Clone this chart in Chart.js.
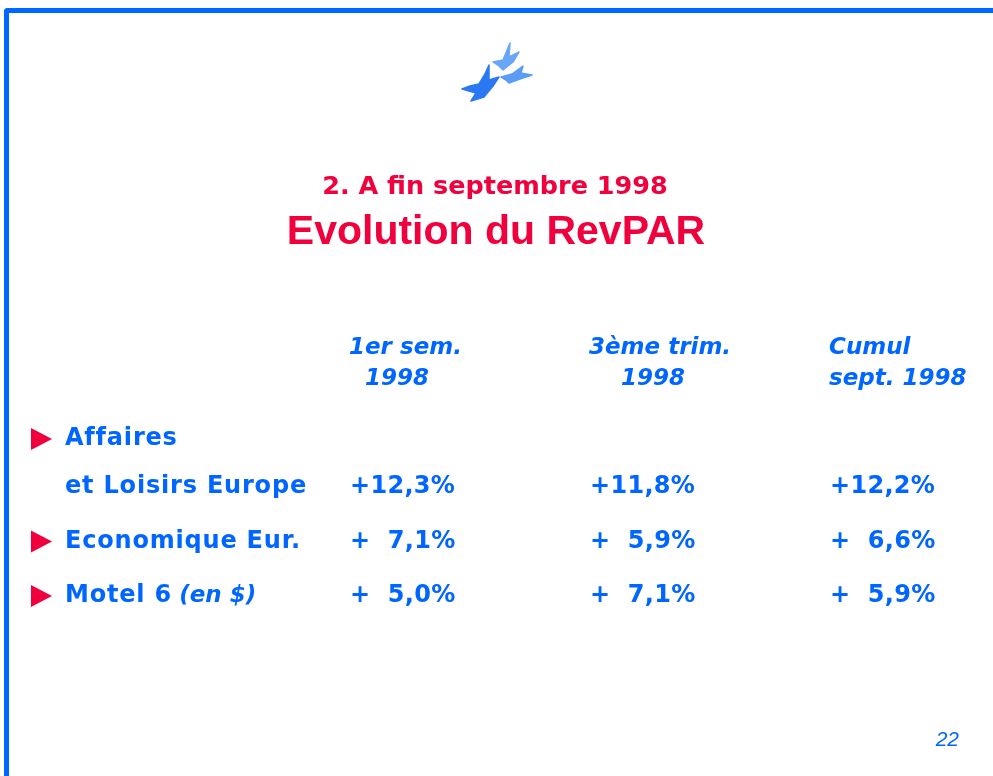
<!DOCTYPE html>
<html>
<head>
<meta charset="utf-8">
<script src="https://cdn.jsdelivr.net/npm/chart.js@4.4.1/dist/chart.umd.min.js"></script>
<style>
  body { margin: 0; background: #fff; }
  #frame {
    position: absolute; left: 4px; top: 8px; width: 995px; height: 780px;
    border-top: 5px solid #0066ff; border-left: 5px solid #0066ff;
    border-top-left-radius: 4px;
  }
  canvas { position: absolute; left: 0; top: 0; }
</style>
</head>
<body>
<div id="frame"></div>
<canvas id="chart" width="993" height="776"></canvas>
<script>
const slideKicker = '2. A fin septembre 1998';
const slideTitle = 'Evolution du RevPAR';
const pageNumber = '22';

const rowNames = [['Affaires', 'et Loisirs Europe'], ['Economique Eur.'], ['Motel 6']];
const rowNotes = ['', '', '(en $)'];
const columnHeaders = [['1er sem.', '  1998'], ['3ème trim.', '    1998'], ['Cumul', 'sept. 1998']];

const sem1 = [12.3, 7.1, 5.0];
const trim3 = [11.8, 5.9, 7.1];
const cumul = [12.2, 6.6, 5.9];

const BLUE = '#0066ff';
const RED = '#f0003c';

// little flock of birds above the title
const birds = [
  { color: '#6aa6f7', pts: [[493, 62], [503, 60], [510, 43], [509, 57], [519, 52], [513, 62], [503, 70], [499, 66]] },
  { color: '#5a9cf6', pts: [[501, 77], [512, 74], [523, 66], [521, 73], [532, 75], [520, 79], [509, 83], [506, 80]] },
  { color: '#2a78f3', pts: [[462, 89], [470, 86], [479, 84], [485, 74], [489, 65], [489, 80], [499, 77], [493, 86], [484, 97], [471, 101], [476, 93], [469, 91]] }
];

function formatPct(v) {
  const s = v.toFixed(1).replace('.', ',') + '%';
  return v >= 10 ? '+' + s : '+  ' + s;
}

function columnData(values, col) {
  return values.map(function(v, row) {
    return { x: col, y: row, v: v };
  });
}

function drawBlob(ctx, pts, color) {
  ctx.fillStyle = color;
  ctx.strokeStyle = color;
  ctx.lineWidth = 1.5;
  ctx.lineJoin = 'round';
  ctx.beginPath();
  pts.forEach(function(p, i) {
    if (i === 0) ctx.moveTo(p[0], p[1]);
    else ctx.lineTo(p[0], p[1]);
  });
  ctx.closePath();
  ctx.fill();
  ctx.stroke();
}

const slidePlugin = {
  id: 'slide',
  afterDraw: function(chart, args, opts) {
    const ctx = chart.ctx;
    const xScale = chart.scales.x;
    const yScale = chart.scales.y;
    ctx.save();
    ctx.textBaseline = 'middle';

    birds.forEach(function(b) { drawBlob(ctx, b.pts, b.color); });

    // titles
    ctx.textAlign = 'center';
    ctx.fillStyle = RED;
    ctx.font = 'bold 25.5px "DejaVu Sans"';
    ctx.fillText(slideKicker, 495, 187);
    ctx.font = 'bold 41px "Liberation Sans"';
    ctx.fillText(slideTitle, 496, 233);

    ctx.fillStyle = BLUE;

    // column headers
    ctx.textAlign = 'left';
    ctx.font = 'italic bold 23px "DejaVu Sans"';
    ctx.letterSpacing = '0px';
    const y0 = yScale.getPixelForValue(0);
    columnHeaders.forEach(function(lines, i) {
      const x = xScale.getPixelForValue(i) - 1;
      lines.forEach(function(line, k) {
        ctx.fillText(line, x, y0 + opts.headerTop + k * opts.headerGap);
      });
    });

    // row labels and bullets
    ctx.letterSpacing = opts.labelSpacing;
    rowNames.forEach(function(lines, row) {
      const y = yScale.getPixelForValue(row);
      const firstY = y - (lines.length - 1) * opts.labelGap;
      ctx.fillStyle = RED;
      ctx.beginPath();
      ctx.moveTo(opts.bulletX, firstY - 11);
      ctx.lineTo(opts.bulletX + 21, firstY);
      ctx.lineTo(opts.bulletX, firstY + 11);
      ctx.closePath();
      ctx.fill();
      ctx.fillStyle = BLUE;
      lines.forEach(function(line, k) {
        const ly = firstY + k * opts.labelGap;
        ctx.font = 'bold 24px "DejaVu Sans"';
        ctx.fillText(line, opts.labelX, ly);
        if (k === lines.length - 1 && rowNotes[row]) {
          const w = ctx.measureText(line + ' ').width;
          ctx.letterSpacing = '0px';
          ctx.font = 'italic bold 23px "DejaVu Sans"';
          ctx.fillText(rowNotes[row], opts.labelX + w - 2, ly);
          ctx.letterSpacing = opts.labelSpacing;
        }
      });
    });

    // values
    ctx.letterSpacing = opts.valueSpacing;
    ctx.font = 'bold 24px "DejaVu Sans"';
    chart.data.datasets.forEach(function(ds, i) {
      const meta = chart.getDatasetMeta(i);
      meta.data.forEach(function(el, j) {
        ctx.fillText(formatPct(ds.data[j].v), el.x, el.y);
      });
    });

    // page number
    ctx.letterSpacing = '0px';
    ctx.textAlign = 'right';
    ctx.font = 'italic 21px "Liberation Sans"';
    ctx.fillText(pageNumber, 959, 740);
    ctx.restore();
  }
};

new Chart(document.getElementById('chart'), {
  type: 'scatter',
  data: {
    datasets: [
      { label: columnHeaders[0].join(' '), data: columnData(sem1, 0) },
      { label: columnHeaders[1].join(' '), data: columnData(trim3, 1) },
      { label: columnHeaders[2].join(' '), data: columnData(cumul, 2) }
    ]
  },
  options: {
    responsive: false,
    animation: false,
    events: [],
    elements: { point: { radius: 0 } },
    layout: { padding: { left: 230, right: 13, top: 459.75, bottom: 152.75 } },
    scales: {
      x: { type: 'linear', min: -0.5, max: 2.625, display: false },
      y: { type: 'linear', min: -0.5, max: 2.5, reverse: true, display: false }
    },
    plugins: {
      legend: { display: false },
      tooltip: { enabled: false },
      slide: {
        labelSpacing: '0.8px',
        valueSpacing: '0.3px',
        headerTop: -139,
        headerGap: 31,
        labelGap: 48,
        labelX: 65,
        bulletX: 31
      }
    }
  },
  plugins: [slidePlugin]
});
</script>
</body>
</html>
